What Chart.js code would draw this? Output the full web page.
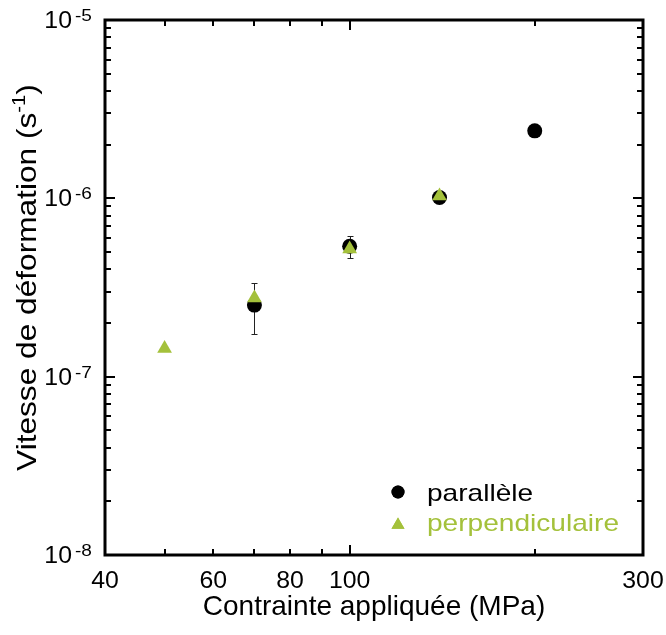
<!DOCTYPE html>
<html>
<head>
<meta charset="utf-8">
<script src="https://cdn.jsdelivr.net/npm/chart.js@4.4.0/dist/chart.umd.min.js"></script>
<style>
  html, body { margin: 0; padding: 0; background: #fff; }
  canvas { display: block; }
</style>
</head>
<body>
<canvas id="chart" width="666" height="635"></canvas>
<script>
// données
const stressPar = [70, 100, 140, 200];
const ratePar = [2.52e-7, 5.39e-7, 1.01e-6, 2.39e-6];
const errLowPar = [1.74e-7, 4.63e-7, null, null];
const errHighPar = [3.37e-7, 6.18e-7, null, null];

const stressPerp = [50, 70, 100, 140];
const ratePerp = [1.44e-7, 2.76e-7, 5.2e-7, 1.03e-6];

const xTicks = [50, 60, 70, 80, 90, 100, 200];
const xMajorTicks = [100];
const xTickLabels = [40, 60, 80, 100, 300];
const yExponents = [-8, -7, -6, -5];
const yMinorSteps = [2, 3, 4, 5, 6, 7, 8, 9];

const labelPar = 'parallèle';
const labelPerp = 'perpendiculaire';
const GREEN = '#a4c13b';
const FONT = '"Liberation Sans", Arial, sans-serif';

// texte étiré horizontalement comme sur la figure d'origine
const stretchText = (ctx, text, x, y, sx) => {
    ctx.save();
    ctx.translate(x, y);
    ctx.scale(sx, 1);
    ctx.fillText(text, 0, 0);
    ctx.restore();
};

// barres d'erreur, dessinées sous les points
const errorBars = {
    id: 'errorBars',
    beforeDatasetsDraw(chart) {
        const { ctx, scales: { x, y } } = chart;
        ctx.save();
        ctx.strokeStyle = '#222';
        ctx.lineWidth = 1;
        stressPar.forEach((v, i) => {
            if (errLowPar[i] == null) return;
            const px = Math.round(x.getPixelForValue(v)) + 0.5;
            const y0 = Math.round(y.getPixelForValue(errLowPar[i])) + 0.5;
            const y1 = Math.round(y.getPixelForValue(errHighPar[i])) + 0.5;
            ctx.beginPath();
            ctx.moveTo(px, y0); ctx.lineTo(px, y1);
            ctx.moveTo(px - 3, y0); ctx.lineTo(px + 3, y0);
            ctx.moveTo(px - 3, y1); ctx.lineTo(px + 3, y1);
            ctx.stroke();
        });
        ctx.restore();
    }
};

// cadre, graduations vers l'intérieur, libellés et légende
const frame = {
    id: 'frame',
    afterDraw(chart) {
        const { ctx, chartArea: a, scales: { x, y } } = chart;
        ctx.save();
        ctx.strokeStyle = '#000';

        // graduations
        ctx.lineWidth = 2;
        ctx.beginPath();
        xTicks.forEach(v => {
            const px = Math.round(x.getPixelForValue(v));
            const len = xMajorTicks.includes(v) ? 10 : 6;
            ctx.moveTo(px, a.bottom); ctx.lineTo(px, a.bottom - len);
            ctx.moveTo(px, a.top); ctx.lineTo(px, a.top + len);
        });
        yExponents.forEach(e => {
            const py = Math.round(y.getPixelForValue(Math.pow(10, e)));
            ctx.moveTo(a.left, py); ctx.lineTo(a.left + 10, py);
            ctx.moveTo(a.right, py); ctx.lineTo(a.right - 10, py);
            if (e === -5) return;
            yMinorSteps.forEach(m => {
                const pm = Math.round(y.getPixelForValue(m * Math.pow(10, e)));
                ctx.moveTo(a.left, pm); ctx.lineTo(a.left + 6, pm);
                ctx.moveTo(a.right, pm); ctx.lineTo(a.right - 6, pm);
            });
        });
        ctx.stroke();

        // cadre
        ctx.lineWidth = 3;
        ctx.strokeRect(a.left, a.top, a.right - a.left, a.bottom - a.top);

        // libellés de l'axe x
        ctx.fillStyle = '#000';
        ctx.font = `23px ${FONT}`;
        ctx.textAlign = 'center';
        ctx.textBaseline = 'alphabetic';
        xTickLabels.forEach(v => stretchText(ctx, String(v), x.getPixelForValue(v), 588, 1.08));

        // libellés de l'axe y : 10 puissance n
        yExponents.forEach(e => {
            const py = y.getPixelForValue(Math.pow(10, e));
            ctx.textAlign = 'right';
            ctx.font = `23px ${FONT}`;
            stretchText(ctx, '10', 72, py + 8, 1.08);
            ctx.textAlign = 'left';
            ctx.font = `17px ${FONT}`;
            stretchText(ctx, String(e), 75, py + 1, 1.12);
        });

        // titre x
        ctx.textAlign = 'center';
        ctx.font = `28px ${FONT}`;
        ctx.fillText('Contrainte appliquée (MPa)', (a.left + a.right) / 2, 615);

        // titre y avec exposant
        ctx.save();
        ctx.translate(36, (a.top + a.bottom) / 2 - 10);
        ctx.rotate(-Math.PI / 2);
        ctx.scale(1.13, 1);
        const main = 'Vitesse de déformation (s';
        ctx.font = `28px ${FONT}`;
        const w1 = ctx.measureText(main).width;
        const w3 = ctx.measureText(')').width;
        ctx.font = `18px ${FONT}`;
        const w2 = ctx.measureText('-1').width;
        const tx = -(w1 + w2 + w3) / 2;
        ctx.textAlign = 'left';
        ctx.font = `28px ${FONT}`;
        ctx.fillText(main, tx, 0);
        ctx.font = `18px ${FONT}`;
        ctx.fillText('-1', tx + w1, -11);
        ctx.font = `28px ${FONT}`;
        ctx.fillText(')', tx + w1 + w2, 0);
        ctx.restore();

        // légende
        const rows = [
            { label: labelPar, color: '#000', style: 'circle', r: 6.5, y: 501, my: 492 },
            { label: labelPerp, color: GREEN, style: 'triangle', r: 7.5, y: 531, my: 525 }
        ];
        rows.forEach(row => {
            ctx.fillStyle = row.color;
            Chart.helpers.drawPoint(ctx, { pointStyle: row.style, radius: row.r, borderWidth: 0 }, 398, row.my);
            ctx.fill();
            ctx.font = `24px ${FONT}`;
            ctx.textAlign = 'left';
            stretchText(ctx, row.label, 427, row.y, 1.17);
        });
        ctx.restore();
    }
};

new Chart(document.getElementById('chart'), {
    type: 'scatter',
    data: {
        datasets: [
            {
                label: labelPerp,
                data: stressPerp.map((v, i) => ({ x: v, y: ratePerp[i] })),
                pointStyle: 'triangle',
                pointRadius: 8.5,
                backgroundColor: GREEN,
                borderWidth: 0,
                order: 0
            },
            {
                label: labelPar,
                data: stressPar.map((v, i) => ({ x: v, y: ratePar[i] })),
                pointStyle: 'circle',
                pointRadius: 7.5,
                backgroundColor: '#000',
                borderWidth: 0,
                order: 1
            }
        ]
    },
    options: {
        responsive: false,
        animation: false,
        layout: { padding: { left: 0, top: 20, right: 23, bottom: 0 } },
        plugins: { legend: { display: false }, tooltip: { enabled: false } },
        scales: {
            x: {
                type: 'logarithmic',
                min: 40,
                max: 300,
                ticks: { display: false },
                grid: { display: false },
                border: { display: false },
                afterFit: s => { s.height = 80; }
            },
            y: {
                type: 'logarithmic',
                min: 1e-8,
                max: 1e-5,
                ticks: { display: false },
                grid: { display: false },
                border: { display: false },
                afterFit: s => { s.width = 105; }
            }
        }
    },
    plugins: [errorBars, frame]
});
</script>
</body>
</html>
